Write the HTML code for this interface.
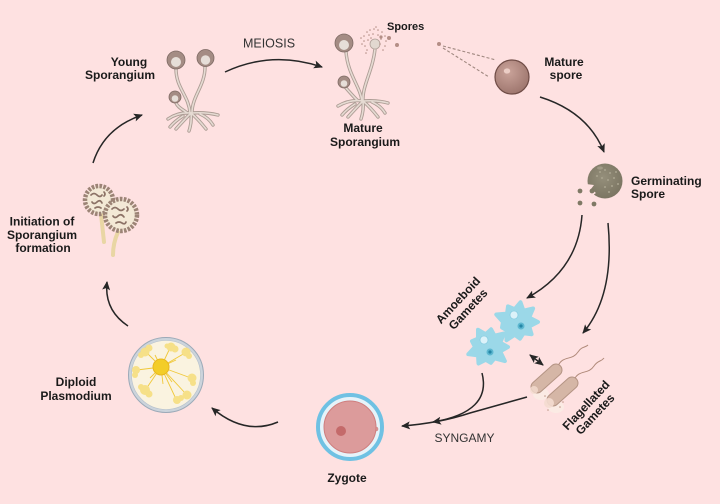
<!DOCTYPE html>
<html><head><meta charset="utf-8"><style>
html,body{margin:0;padding:0;background:#fee1e1;}
svg{display:block;}
text{font-family:"Liberation Sans",Arial,sans-serif;}
.b{font-weight:bold;font-size:12px;fill:#1a1a1a;}
.r{font-size:12px;fill:#333;}
</style></head><body>
<svg width="720" height="504" viewBox="0 0 720 504" xmlns="http://www.w3.org/2000/svg">
<defs>
<marker id="ah" markerWidth="10" markerHeight="10" refX="8" refY="5" orient="auto-start-reverse" markerUnits="userSpaceOnUse">
<path d="M0,1 L9,5 L0,9 L2,5 Z" fill="#262626"/>
</marker>
<radialGradient id="sp" cx="0.4" cy="0.35" r="0.7">
<stop offset="0" stop-color="#caa39a"/><stop offset="1" stop-color="#9c746c"/>
</radialGradient>
<radialGradient id="gs" cx="0.45" cy="0.4" r="0.7">
<stop offset="0" stop-color="#958f7b"/><stop offset="1" stop-color="#77715e"/>
</radialGradient>
<g id="ysk" fill="none" stroke-linecap="round">
<path d="M176,69 C176,88 189,96 190,113"/>
<path d="M205,67 C205,86 192,96 192,113"/>
<path d="M176,103 C178,108 184,110 187,113"/>
<path d="M168,119 Q178,112 191,113 Q206,112 218,115"/>
<path d="M191,113 Q184,120 176,129"/>
<path d="M191,113 Q192,122 189,131"/>
<path d="M191,113 Q199,120 206,129"/>
<path d="M183,116 Q175,121 170,127"/>
<path d="M200,114 Q209,118 213,125"/>
</g>
<g id="msk" fill="none" stroke-linecap="round">
<path d="M346,52 C348,75 360,86 362,101"/>
<path d="M375,49 C373,70 362,86 363,101"/>
<path d="M346,88 Q352,95 357,100"/>
<path d="M338,106 Q350,99 363,101 Q377,100 388,103"/>
<path d="M363,101 Q356,108 348,117"/>
<path d="M363,101 Q364,110 361,119"/>
<path d="M363,101 Q371,108 378,117"/>
<path d="M355,104 Q347,109 342,115"/>
<path d="M372,102 Q381,106 385,113"/>
</g>
</defs>

<rect width="720" height="504" fill="#fee1e1"/>

<!-- Young sporangium -->
<use href="#ysk" stroke="#ad9d95" stroke-width="3.4"/>
<use href="#ysk" stroke="#e6dbd3" stroke-width="1.6"/>
<g stroke="#7e6a64" stroke-width="0.8">
<circle cx="176" cy="60" r="9" fill="#a48c84"/>
<circle cx="205.5" cy="58" r="8.5" fill="#a48c84"/>
<circle cx="175" cy="97" r="6" fill="#a48c84"/>
</g>
<circle cx="176" cy="62" r="5" fill="#e6ded8"/>
<circle cx="205.5" cy="60" r="4.7" fill="#e6ded8"/>
<circle cx="175" cy="98.5" r="3.3" fill="#e6ded8"/>

<!-- Mature sporangium -->
<use href="#msk" stroke="#ad9d95" stroke-width="3.4"/>
<use href="#msk" stroke="#e6dbd3" stroke-width="1.6"/>
<g stroke="#7e6a64" stroke-width="0.8">
<circle cx="344" cy="43" r="9" fill="#a48c84"/>
<circle cx="344" cy="82" r="6" fill="#a48c84"/>
</g>
<circle cx="344" cy="45" r="5" fill="#e6ded8"/>
<circle cx="344" cy="83.5" r="3.3" fill="#e6ded8"/>
<circle cx="375" cy="44" r="5" fill="#e2d8d0" stroke="#b0a098" stroke-width="0.8"/>
<g fill="#b48e86">
<circle cx="364" cy="36" r="0.8"/><circle cx="367" cy="32" r="0.8"/><circle cx="370" cy="30" r="0.8"/><circle cx="374" cy="29" r="0.8"/>
<circle cx="378" cy="30" r="0.8"/><circle cx="382" cy="32" r="0.8"/><circle cx="385" cy="36" r="0.8"/><circle cx="386" cy="41" r="0.8"/>
<circle cx="385" cy="46" r="0.8"/><circle cx="383" cy="50" r="0.8"/><circle cx="364" cy="41" r="0.8"/><circle cx="365" cy="46" r="0.8"/>
<circle cx="367" cy="50" r="0.8"/><circle cx="369" cy="35" r="0.8"/><circle cx="373" cy="34" r="0.8"/><circle cx="378" cy="35" r="0.8"/>
<circle cx="381" cy="39" r="0.8"/><circle cx="368" cy="40" r="0.8"/><circle cx="362" cy="44" r="0.8"/><circle cx="361" cy="38" r="0.8"/>
<circle cx="371" cy="38" r="0.8"/><circle cx="380" cy="44" r="0.8"/><circle cx="366" cy="53" r="0.8"/><circle cx="376" cy="27" r="0.8"/>
<circle cx="389" cy="38" r="2"/><circle cx="397" cy="45" r="2"/><circle cx="381" cy="37" r="1.6"/>
<circle cx="439" cy="44" r="2"/>
</g>
<g stroke="#a08880" stroke-width="1.1" stroke-dasharray="3 2" fill="none">
<path d="M443,46 L496,60"/><path d="M443,48 L489,77"/>
</g>

<!-- Mature spore -->
<circle cx="512" cy="77" r="17" fill="url(#sp)" stroke="#6f4c46" stroke-width="1.2"/>
<ellipse cx="507" cy="71" rx="3.2" ry="2.6" fill="#ebcdc5"/>

<!-- Germinating spore -->
<circle cx="605" cy="181" r="17.5" fill="url(#gs)"/>
<path d="M586,184 L594,185 L591,189 L596,193 L590,197 L585,194 Z" fill="#fee1e1"/>
<g fill="#aaa48f">
<circle cx="600" cy="172" r="1"/><circle cx="605" cy="170" r="1"/><circle cx="610" cy="173" r="1"/><circle cx="614" cy="178" r="1"/>
<circle cx="608" cy="180" r="1"/><circle cx="602" cy="178" r="1"/><circle cx="612" cy="186" r="1"/><circle cx="605" cy="187" r="1"/>
<circle cx="616" cy="172" r="1"/><circle cx="597" cy="176" r="1"/><circle cx="609" cy="192" r="1"/><circle cx="618" cy="184" r="1"/>
</g>
<ellipse cx="600" cy="168" rx="3" ry="1.6" fill="#b0aa96" opacity="0.6"/>
<g fill="#7f7965">
<circle cx="580" cy="191" r="2.4"/><circle cx="592" cy="191" r="2.4"/>
<circle cx="580" cy="203" r="2.4"/><circle cx="594" cy="204" r="2.4"/>
</g>

<!-- Amoeboid gametes -->
<g fill="#9bd8e8" stroke="#9bd8e8" stroke-width="4" stroke-linejoin="round">
<polygon points="538,322 529.2,326.4 531.6,334.2 523.5,333.3 520,338.7 514.7,334.8 506.5,340.2 507,330.4 502,327.5 503,322 496.3,314.5 507,313.6 508,306.4 514.7,309.2 520.5,302.3 523.5,310.7 533.1,308.5 529.2,317.6"/>
<polygon points="508,347 500.2,351.4 504.9,361.1 494.5,358.3 490.8,362.8 485.7,359.8 478.5,363.5 478,355.4 468.3,354.2 475,347 472,341.2 478,338.6 478,329.7 485.7,334.2 491.1,329.3 494.5,335.7 504.1,333.5 500.2,342.6"/>
</g>
<circle cx="514" cy="315" r="4" fill="#dcf2f9" stroke="#7cc6dc" stroke-width="0.6"/>
<circle cx="521" cy="326" r="3.5" fill="#5db7d0"/><circle cx="521" cy="326" r="1.6" fill="#2386a6"/>
<circle cx="484" cy="340" r="4" fill="#dcf2f9" stroke="#7cc6dc" stroke-width="0.6"/>
<circle cx="490" cy="352" r="3.5" fill="#5db7d0"/><circle cx="490" cy="352" r="1.6" fill="#2386a6"/>

<!-- Flagellated gametes -->
<g fill="none" stroke="#b08a7a" stroke-width="1">
<path d="M558,366 C563,355 572,361 578,352 C582,346 585,348 588,345"/>
<path d="M574,380 C579,369 588,375 594,366 C598,360 601,362 604,358"/>
</g>
<ellipse cx="541" cy="394" rx="8" ry="6" fill="#fbece4" opacity="0.9"/>
<ellipse cx="556" cy="407" rx="8" ry="6" fill="#fbece4" opacity="0.9"/>
<g stroke-linecap="round">
<path d="M537,387 L556,370" stroke="#b49484" stroke-width="13"/>
<path d="M537,387 L556,370" stroke="#d5b6a6" stroke-width="11"/>
<path d="M553,400 L572,383" stroke="#b49484" stroke-width="13"/>
<path d="M553,400 L572,383" stroke="#d5b6a6" stroke-width="11"/>
</g>
<circle cx="549" cy="403" r="5" fill="#f4dcd0" opacity="0.9"/>
<circle cx="534" cy="390" r="4" fill="#f4dcd0" opacity="0.8"/>
<g fill="#c09a8a"><circle cx="545" cy="396" r="0.8"/><circle cx="560" cy="407" r="0.8"/><circle cx="548" cy="410" r="0.8"/><circle cx="563" cy="402" r="0.8"/></g>

<!-- Zygote -->
<circle cx="350" cy="427" r="32" fill="#e6f3f9" stroke="#6fc1e3" stroke-width="4"/>
<circle cx="376" cy="429" r="2" fill="#dc9a9a" stroke="#cf7e7e" stroke-width="0.6"/>
<circle cx="350" cy="427" r="26" fill="#dc9b9b" stroke="#cf7e7e" stroke-width="1"/>
<circle cx="341" cy="431" r="5" fill="#c46a6a"/>

<!-- Diploid plasmodium -->
<circle cx="166" cy="375" r="37.5" fill="#ccd4dc" stroke="#9caab8" stroke-width="1"/>
<circle cx="166" cy="375" r="34.5" fill="#faf3e0" stroke="#b8c2cc" stroke-width="0.6"/>
<g stroke="#f0c838" stroke-width="0.9" fill="none">
<path d="M161,367 L146,352"/><path d="M161,367 L170,348"/><path d="M161,367 L185,353"/>
<path d="M161,367 L137,370"/><path d="M161,367 L191,378"/><path d="M161,367 L146,389"/>
<path d="M161,367 L186,394"/><path d="M161,367 L176,399"/><path d="M161,367 L155,355"/>
<path d="M161,367 L150,378"/><path d="M161,367 L172,382"/><path d="M161,367 L176,360"/>
<path d="M161,367 L163,384"/>
</g>
<g fill="#f6e088">
<circle cx="145" cy="352" r="4.5"/><circle cx="149" cy="348" r="3.5"/><circle cx="141" cy="355" r="3"/>
<circle cx="171" cy="347" r="4.5"/><circle cx="175" cy="349" r="3.5"/><circle cx="167" cy="346" r="2.5"/>
<circle cx="186" cy="352" r="4.5"/><circle cx="189" cy="356" r="3"/>
<circle cx="136" cy="370" r="4"/><circle cx="135" cy="375" r="3"/>
<circle cx="192" cy="378" r="4.5"/><circle cx="193" cy="383" r="3"/>
<circle cx="145" cy="390" r="5"/><circle cx="141" cy="387" r="3"/><circle cx="149" cy="394" r="3.5"/>
<circle cx="187" cy="395" r="4.5"/><circle cx="177" cy="400" r="4"/><circle cx="181" cy="398" r="3"/>
</g>
<circle cx="161" cy="367" r="8" fill="#f3cd28" stroke="#e8b820" stroke-width="1"/>

<!-- Initiation of sporangium -->
<g stroke="#e9d6a4" stroke-width="4" stroke-linecap="round" fill="none">
<path d="M101,214 L104,242"/>
<path d="M118,232 Q113,243 113,255"/>
</g>
<circle cx="99" cy="200" r="14" fill="#f3e9d6" stroke="#9c8476" stroke-width="4.5" stroke-dasharray="2.6 1.3"/>
<g stroke="#8c7266" stroke-width="1.7" fill="none" stroke-linecap="round">
<path d="M91,195 q3,-3 6,0 t5,0"/><path d="M92,202 q2,3 5,0 t5,1"/><path d="M95,208 q3,-2 6,0"/><path d="M104,192 q2,2 0,4"/>
</g>
<circle cx="121" cy="215" r="16" fill="#f3e9d6" stroke="#9c8476" stroke-width="4.5" stroke-dasharray="2.6 1.3"/>
<g stroke="#8c7266" stroke-width="1.7" fill="none" stroke-linecap="round">
<path d="M112,209 q3,-3 6,0 t6,0"/><path d="M113,216 q2,3 5,0 t6,1"/><path d="M116,223 q3,-2 6,0 t4,-1"/><path d="M127,207 q2,2 0,4"/>
</g>

<!-- Arrows -->
<g fill="none" stroke="#262626" stroke-width="1.5">
<path d="M225,72 Q272,50 322,67" marker-end="url(#ah)"/>
<path d="M540,97 Q588,112 604,152" marker-end="url(#ah)"/>
<path d="M582,215 Q578,270 527,298" marker-end="url(#ah)"/>
<path d="M608,223 Q615,295 583,333" marker-end="url(#ah)"/>
<path d="M530,355 L543,365" marker-start="url(#ah)" marker-end="url(#ah)"/>
<path d="M482,373 Q492,412 433,422" marker-end="url(#ah)"/>
<path d="M527,397 L470,413 Q440,423 402,426" marker-end="url(#ah)"/>
<path d="M278,422 Q245,436 212,408" marker-end="url(#ah)"/>
<path d="M128,326 Q104,310 107,282" marker-end="url(#ah)"/>
<path d="M93,163 Q104,128 142,115" marker-end="url(#ah)"/>
</g>

<!-- Labels -->
<text class="b" x="129" y="66" text-anchor="middle">Young</text>
<text class="b" x="120" y="79" text-anchor="middle">Sporangium</text>
<text class="r" x="269" y="47.5" text-anchor="middle" style="font-size:12.5px">MEIOSIS</text>
<text class="b" x="387" y="30" style="font-size:11px">Spores</text>
<text class="b" x="363" y="132" text-anchor="middle">Mature</text>
<text class="b" x="365" y="146" text-anchor="middle">Sporangium</text>
<text class="b" x="564" y="66" text-anchor="middle">Mature</text>
<text class="b" x="566" y="79" text-anchor="middle">spore</text>
<text class="b" x="631" y="185">Germinating</text>
<text class="b" x="631" y="198">Spore</text>
<text class="b" x="42" y="225.5" text-anchor="middle">Initiation of</text>
<text class="b" x="42" y="239" text-anchor="middle">Sporangium</text>
<text class="b" x="43" y="252" text-anchor="middle">formation</text>
<text class="b" x="76" y="386" text-anchor="middle">Diploid</text>
<text class="b" x="76" y="400" text-anchor="middle">Plasmodium</text>
<text class="b" x="347" y="482" text-anchor="middle">Zygote</text>
<text class="r" x="464.5" y="442" text-anchor="middle">SYNGAMY</text>
<text class="b" text-anchor="middle" transform="translate(461,303) rotate(-47)">Amoeboid</text>
<text class="b" text-anchor="middle" transform="translate(471,312) rotate(-47)">Gametes</text>
<text class="b" text-anchor="middle" transform="translate(589,408) rotate(-47)">Flagellated</text>
<text class="b" text-anchor="middle" transform="translate(598,417) rotate(-47)">Gametes</text>
</svg>
</body></html>
